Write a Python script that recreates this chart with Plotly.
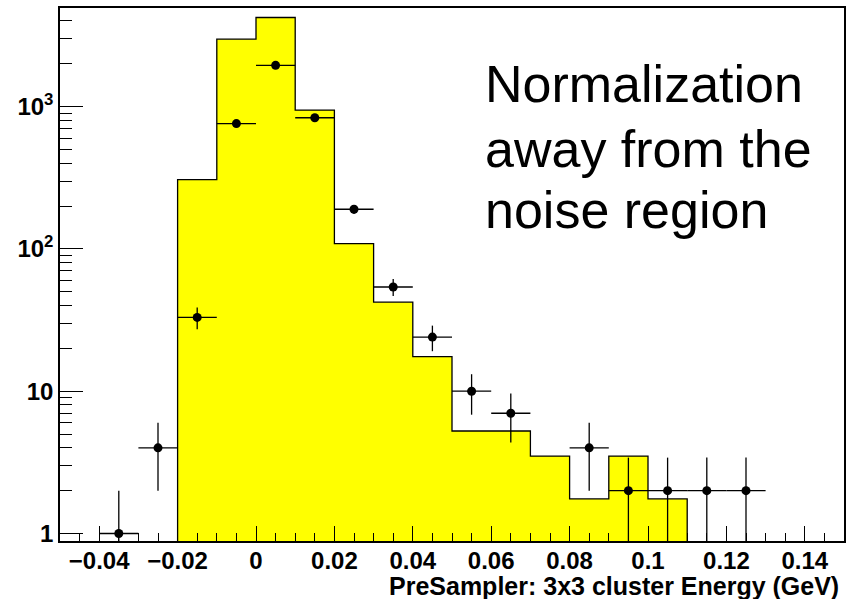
import numpy as np
import plotly.graph_objects as go

# Measured data: bin centres (GeV) and counts per 0.01 GeV bin
data_x = [-0.035, -0.025, -0.015, -0.005, 0.005, 0.015, 0.025, 0.035,
          0.045, 0.055, 0.065, 0.085, 0.095, 0.105, 0.115, 0.125]
data_y = [1, 4, 33, 760, 1950, 835, 190, 54, 24, 10, 7, 4, 2, 2, 2, 2]

# Normalised simulation histogram, bins of 0.01 GeV starting at -0.02 GeV
mc_first_edge = -0.02
mc_bin_width = 0.01
mc_y = [307, 2980, 4230, 945, 109, 42.2, 17.5, 5.25, 5.25, 3.5, 1.75, 3.5, 1.75]

x_tick_vals = [-0.04, -0.02, 0, 0.02, 0.04, 0.06, 0.08, 0.1, 0.12, 0.14]
x_tick_text = ["\u22120.04", "\u22120.02", "0", "0.02", "0.04", "0.06",
               "0.08", "0.1", "0.12", "0.14"]
y_tick_vals = [1, 10, 100, 1000]
y_tick_text = ["1", "10", "10<sup>2</sup>", "10<sup>3</sup>"]

x_title = "PreSampler: 3x3 cluster Energy (GeV)"
note_lines = ["Normalization", "away from the", "noise region"]

FONT = "Liberation Sans, Arial, Helvetica, sans-serif"

# Plot-area geometry (pixels)
W, H = 848, 599
M_L, M_R, M_T, M_B = 60, 2, 8, 58
PLOT_H = H - M_T - M_B


def py_to_paper(py):
    return (H - M_B - py) / PLOT_H


def px_to_paper(px):
    return (px - M_L) / (W - M_L - M_R)


# Step outline of the simulation histogram, closed below the axis floor
floor = 1e-3
edges = [round(mc_first_edge + i * mc_bin_width, 4) for i in range(len(mc_y) + 1)]
hx, hy = [edges[0]], [floor]
for i, v in enumerate(mc_y):
    hx += [edges[i], edges[i + 1]]
    hy += [v, v]
hx.append(edges[-1])
hy.append(floor)

fig = go.Figure()
fig.add_trace(go.Scatter(
    x=hx, y=hy, mode="lines", fill="toself", fillcolor="#ffff00",
    line=dict(color="black", width=1.3), hoverinfo="skip", showlegend=False,
))

err_y = [float(np.sqrt(v)) for v in data_y]
fig.add_trace(go.Scatter(
    x=data_x, y=data_y, mode="markers",
    marker=dict(color="black", size=9, symbol="circle"),
    error_y=dict(type="data", array=err_y, symmetric=True, width=0,
                 thickness=1.3, color="black"),
    error_x=dict(type="data", array=[mc_bin_width / 2] * len(data_x),
                 width=0, thickness=1.3, color="black"),
    showlegend=False,
))

x_minor = [round(-0.05 + 0.005 * i, 4) for i in range(41)]
x_minor = [v for v in x_minor if all(abs(v - t) > 1e-9 for t in x_tick_vals)]
y_minor = [m * 10 ** k for k in range(0, 4) for m in range(2, 10) if m * 10 ** k < 4900]

fig.update_layout(
    width=W, height=H,
    margin=dict(l=M_L, r=M_R, t=M_T, b=M_B),
    paper_bgcolor="white", plot_bgcolor="white",
    font=dict(family=FONT, color="black"),
    xaxis=dict(
        range=[-0.05, 0.15], showgrid=False, zeroline=False,
        showline=True, mirror=True, linecolor="black", linewidth=1.5,
        tickmode="array", tickvals=x_tick_vals, ticktext=x_tick_text,
        ticks="inside", ticklen=15, tickwidth=1.3, tickcolor="black",
        ticklabelstandoff=-3,
        tickfont=dict(family=FONT, size=24, weight="bold", color="black"),
        minor=dict(tickmode="array", tickvals=x_minor, ticks="inside",
                   ticklen=8, tickwidth=1.3, tickcolor="black", showgrid=False),
    ),
    yaxis=dict(
        type="log", range=[-0.0527, 3.693], showgrid=False, zeroline=False,
        showline=True, mirror=True, linecolor="black", linewidth=1.5,
        tickmode="array", tickvals=y_tick_vals, ticktext=y_tick_text,
        ticks="inside", ticklen=23, tickwidth=1.3, tickcolor="black",
        tickfont=dict(family=FONT, size=24, weight="bold", color="black"),
        minor=dict(tickmode="array", tickvals=y_minor, ticks="inside",
                   ticklen=12, tickwidth=1.3, tickcolor="black", showgrid=False),
    ),
)

# Axis title, right-aligned under the x axis
fig.add_annotation(
    text=f"<b>{x_title}</b>", xref="paper", yref="paper",
    x=px_to_paper(843), y=py_to_paper(586), xanchor="right", yanchor="middle",
    showarrow=False, font=dict(family=FONT, size=25, color="black"),
)

# Large note, one annotation per line
for line, cy in zip(note_lines, [83.7, 148.7, 210.3]):
    fig.add_annotation(
        text=line, xref="paper", yref="paper",
        x=px_to_paper(484), y=py_to_paper(cy), xanchor="left", yanchor="middle",
        showarrow=False, font=dict(family=FONT, size=52, color="black"),
    )

fig.write_html("out.html")
